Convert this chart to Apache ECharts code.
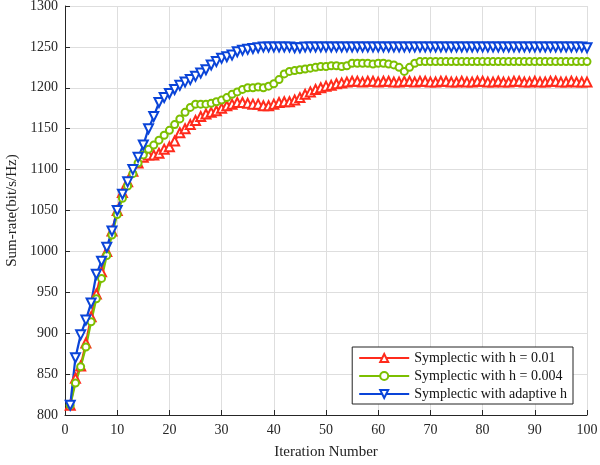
<!DOCTYPE html>
<html>
<head>
<meta charset="utf-8">
<script src="https://cdn.jsdelivr.net/npm/echarts@6/dist/echarts.min.js"></script>
<style>
  html, body { margin: 0; padding: 0; background: #fff; }
  #main { width: 600px; height: 465px; }
</style>
</head>
<body>
<div id="main"></div>
<script>
// iteration index 1..100
var iterations = [];
for (var k = 1; k <= 100; k++) iterations.push(k);

var seriesNames = ['Symplectic with h = 0.01', 'Symplectic with h = 0.004', 'Symplectic with adaptive h'];

// values
var rateH001 = [812, 845, 860, 888, 920, 948, 975, 1000, 1025, 1050,
  1072, 1085, 1098, 1108, 1115, 1118, 1118, 1120, 1125, 1128,
  1135, 1145, 1150, 1155, 1160, 1165, 1168, 1170, 1172, 1175,
  1178, 1180, 1182, 1182, 1181, 1180, 1180, 1178, 1178, 1180,
  1182, 1183, 1183, 1185, 1188, 1192, 1195, 1198, 1200, 1202,
  1203, 1205, 1206, 1207, 1208, 1208, 1207, 1208, 1208, 1207,
  1208, 1208, 1207, 1207, 1208, 1208, 1207, 1208, 1208, 1207,
  1207, 1208, 1208, 1207, 1207, 1208, 1207, 1207, 1208, 1208,
  1207, 1207, 1208, 1207, 1207, 1208, 1208, 1207, 1207, 1208,
  1207, 1207, 1208, 1208, 1207, 1207, 1208, 1207, 1207, 1207];

var rateH0004 = [812, 839, 859, 883, 914, 942, 967, 995, 1020, 1045,
  1065, 1080, 1095, 1108, 1118, 1125, 1130, 1136, 1142, 1148,
  1155, 1162, 1170, 1176, 1180, 1180, 1180, 1181, 1183, 1185,
  1188, 1192, 1195, 1198, 1200, 1200, 1201, 1200, 1202, 1205,
  1210, 1217, 1220, 1221, 1222, 1223, 1224, 1225, 1226, 1226,
  1227, 1227, 1226, 1227, 1230, 1230, 1230, 1230, 1229, 1230,
  1230, 1229, 1228, 1225, 1220, 1225, 1230, 1232, 1232, 1232,
  1232, 1232, 1232, 1232, 1232, 1232, 1232, 1232, 1232, 1232,
  1232, 1232, 1232, 1232, 1232, 1232, 1232, 1232, 1232, 1232,
  1232, 1232, 1232, 1232, 1232, 1232, 1232, 1232, 1232, 1232];

var rateAdaptive = [812, 870, 898, 916, 937, 972, 988, 1005, 1025, 1050,
  1070, 1085, 1100, 1115, 1130, 1150, 1165, 1182, 1188, 1193,
  1198, 1203, 1207, 1210, 1214, 1218, 1222, 1228, 1232, 1236,
  1238, 1240, 1244, 1246, 1247, 1248, 1249, 1250, 1250, 1250,
  1250, 1250, 1250, 1249, 1249, 1250, 1250, 1250, 1250, 1250,
  1250, 1250, 1250, 1250, 1250, 1250, 1250, 1250, 1250, 1250,
  1250, 1250, 1250, 1250, 1250, 1250, 1250, 1250, 1250, 1250,
  1250, 1250, 1250, 1250, 1250, 1250, 1250, 1250, 1250, 1250,
  1250, 1250, 1250, 1250, 1250, 1250, 1250, 1250, 1250, 1250,
  1250, 1250, 1250, 1250, 1250, 1250, 1250, 1250, 1250, 1249];

var colors = ['#ff2b1c', '#7cbf00', '#0a44d8'];
var symbols = ['emptyTriangle', 'emptyCircle', 'emptyTriangle'];
var rotations = [0, 0, 180];

function pairs(vals) {
  return iterations.map(function (x, i) { return [x, vals[i]]; });
}

var chart = echarts.init(document.getElementById('main'));
var font = 'Liberation Serif, Times New Roman, serif';

var allData = [rateH001, rateH0004, rateAdaptive];
var series = allData.map(function (vals, i) {
  return {
    name: seriesNames[i],
    type: 'line',
    data: pairs(vals),
    symbol: symbols[i],
    symbolRotate: rotations[i],
    symbolSize: i === 1 ? 7 : 9,
    showAllSymbol: true,
    lineStyle: { width: 2.2, color: colors[i] },
    itemStyle: { color: colors[i], borderWidth: 1.6, borderColor: colors[i] },
    animation: false
  };
});

var option = {
  backgroundColor: '#ffffff',
  color: colors,
  textStyle: { fontFamily: font },
  grid: { left: 65, right: 13, top: 6, bottom: 50, outerBoundsMode: 'none', containLabel: false },
  legend: {
    orient: 'vertical',
    right: 27,
    top: 347,
    itemWidth: 50,
    itemHeight: 10,
    itemGap: 4,
    padding: [4, 6, 3, 6],
    borderColor: '#222',
    borderWidth: 1,
    borderRadius: 0,
    backgroundColor: '#fff',
    textStyle: { fontFamily: font, fontSize: 14, color: '#111' },
    data: seriesNames
  },
  xAxis: {
    type: 'value',
    min: 0, max: 100, interval: 10,
    name: 'Iteration Number',
    nameLocation: 'middle',
    nameGap: 30,
    nameTextStyle: { fontFamily: font, fontSize: 15, color: '#222' },
    axisLine: { show: true, lineStyle: { color: '#262626', width: 1 } },
    axisTick: { show: true, inside: true, length: 5, lineStyle: { color: '#262626' } },
    axisLabel: { fontFamily: font, fontSize: 14, color: '#262626', margin: 8 },
    splitLine: { show: true, lineStyle: { color: '#dedede', width: 1 } }
  },
  yAxis: {
    type: 'value',
    min: 800, max: 1300, interval: 50,
    name: 'Sum-rate(bit/s/Hz)',
    nameLocation: 'middle',
    nameGap: 42,
    nameTextStyle: { fontFamily: font, fontSize: 15, color: '#222' },
    axisLine: { show: true, lineStyle: { color: '#262626', width: 1 } },
    axisTick: { show: true, inside: true, length: 5, lineStyle: { color: '#262626' } },
    axisLabel: { fontFamily: font, fontSize: 14, color: '#262626', margin: 7,
      formatter: function (v) { return String(v); } },
    splitLine: { show: true, lineStyle: { color: '#dedede', width: 1 } }
  },
  series: series
};

chart.setOption(option);
</script>
</body>
</html>
